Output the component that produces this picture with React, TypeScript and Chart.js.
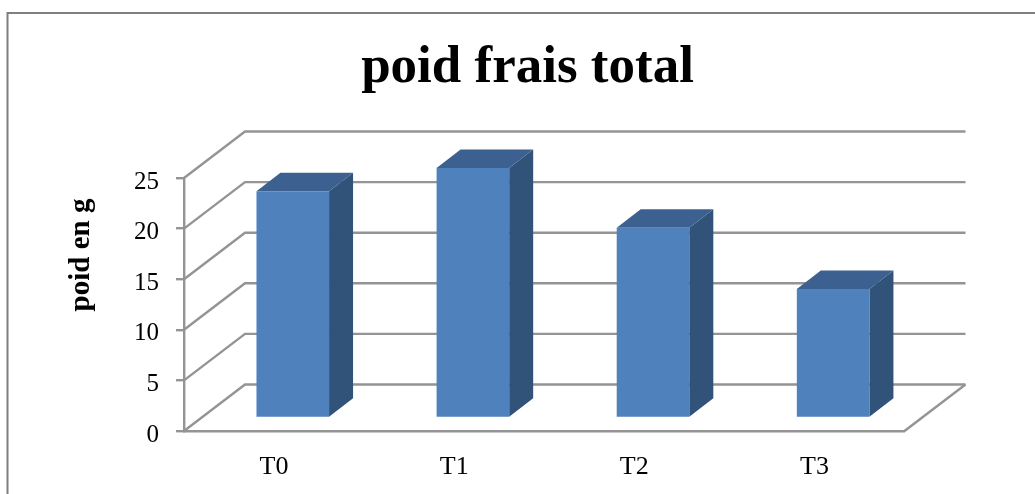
import React, { useEffect, useRef } from "react";
import { Chart, registerables } from "chart.js";

Chart.register(...registerables);

const chartTitle = "poid frais total";
const yAxisTitle = "poid en g";
const categories = ["T0", "T1", "T2", "T3"];
const values = [22.4, 24.7, 18.8, 12.75];
const yMin = 0;
const yMax = 25;
const yStep = 5;

const SERIF = '"Liberation Serif", serif';
const GRID = "#949494";
const FRONT = "#4f81bd";
const SIDE = "#31537a";
const TOP = "#3c6090";
const WALL = { dx: 61, dy: -46.5 };
const BAR_SHIFT = { dx: 18.7, dy: -13 };
const BAR_DEPTH = { dx: 24, dy: -18.5 };

const poly = (ctx: CanvasRenderingContext2D, pts: number[][], fill: string) => {
  ctx.beginPath();
  pts.forEach(([x, y], i) => (i ? ctx.lineTo(x, y) : ctx.moveTo(x, y)));
  ctx.closePath();
  ctx.fillStyle = fill;
  ctx.fill();
};

const frame3d = {
  id: "frame3d",
  beforeDraw(chart: any) {
    const { ctx } = chart;
    ctx.save();
    ctx.strokeStyle = "#7f7f7f";
    ctx.lineWidth = 2;
    ctx.strokeRect(7.5, 13, 2000, 2000);
    ctx.restore();
  },
  beforeDatasetsDraw(chart: any) {
    const { ctx, scales } = chart;
    const { x, y } = scales;
    const left = x.left;
    const right = x.right;
    ctx.save();
    ctx.strokeStyle = GRID;
    ctx.lineWidth = 2.4;
    y.ticks.forEach((t: any) => {
      const py = y.getPixelForValue(t.value);
      ctx.beginPath();
      ctx.moveTo(left, py);
      ctx.lineTo(left + WALL.dx, py + WALL.dy);
      ctx.lineTo(right + WALL.dx, py + WALL.dy);
      ctx.stroke();
    });
    const base = y.getPixelForValue(yMin);
    ctx.beginPath();
    ctx.moveTo(right, base);
    ctx.lineTo(right + WALL.dx, base + WALL.dy);
    ctx.stroke();
    ctx.restore();

    // rotated axis title
    ctx.save();
    ctx.translate(82, 255);
    ctx.rotate(-Math.PI / 2);
    ctx.font = `bold 29px ${SERIF}`;
    ctx.fillStyle = "#000";
    ctx.textAlign = "center";
    ctx.textBaseline = "middle";
    ctx.fillText(yAxisTitle, 0, 0);
    ctx.restore();

    // all bars sit mid-way in the floor depth
    ctx.save();
    ctx.translate(BAR_SHIFT.dx, BAR_SHIFT.dy);
    chart.getDatasetMeta(0).data.forEach((bar: any) => {
      const { x: cx, y: top, base: bottom, width } = bar.getProps(["x", "y", "base", "width"], true);
      const l = cx - width / 2;
      const r = cx + width / 2;
      const d = BAR_DEPTH;
      poly(ctx, [[r, top], [r + d.dx, top + d.dy], [r + d.dx, bottom + d.dy], [r, bottom]], SIDE);
      poly(ctx, [[l, top], [l + d.dx, top + d.dy], [r + d.dx, top + d.dy], [r, top]], TOP);
    });
    ctx.restore();
    ctx.save();
    ctx.translate(BAR_SHIFT.dx, BAR_SHIFT.dy);
    (chart as any).$barShift = true;
  },
  afterDatasetsDraw(chart: any) {
    if (chart.$barShift) {
      chart.ctx.restore();
      chart.$barShift = false;
    }
  },
};

export default function App() {
  const ref = useRef<HTMLCanvasElement | null>(null);

  useEffect(() => {
    if (!ref.current) return;
    const chart = new Chart(ref.current, {
      type: "bar",
      data: {
        labels: categories,
        datasets: [
          {
            label: chartTitle,
            data: values,
            backgroundColor: FRONT,
            borderWidth: 0,
            categoryPercentage: 1,
            barPercentage: 0.403,
          },
        ],
      },
      options: {
        responsive: false,
        animation: false,
        clip: false,
        layout: { padding: 0 },
        plugins: {
          legend: { display: false },
          tooltip: { enabled: false },
          title: {
            display: true,
            text: chartTitle,
            color: "#000",
            font: { family: SERIF, size: 53, weight: "bold", lineHeight: 1.2 },
            padding: { top: 37, bottom: 77.4 },
          },
        },
        scales: {
          x: {
            afterFit(s: any) {
              s.height = 63;
            },
            grid: { display: true, drawOnChartArea: false, drawTicks: false, color: GRID },
            border: { display: true, color: GRID, width: 2.4 },
            ticks: { color: "#000", font: { family: SERIF, size: 26 }, padding: 21, maxRotation: 0 },
          },
          y: {
            min: yMin,
            max: yMax,
            afterFit(s: any) {
              s.width = 184;
            },
            grid: { display: true, drawOnChartArea: false, drawTicks: true, tickLength: 8, color: GRID, lineWidth: 2.4 },
            border: { display: true, color: GRID, width: 2.4 },
            ticks: {
              stepSize: yStep,
              color: "#000",
              font: { family: SERIF, size: 25 },
              padding: 17,
              labelOffset: 4,
            },
          },
          spacer: {
            type: "linear",
            position: "right",
            display: true,
            afterFit(s: any) {
              s.width = 150.5;
            },
            grid: { display: false },
            border: { display: false },
            ticks: { display: false },
          },
        },
      },
      plugins: [frame3d],
    } as any);
    return () => chart.destroy();
  }, []);

  return (
    <div style={{ position: "fixed", inset: 0, overflow: "hidden", background: "#fff" }}>
      <canvas ref={ref} width={1055} height={494} style={{ display: "block" }} />
    </div>
  );
}
